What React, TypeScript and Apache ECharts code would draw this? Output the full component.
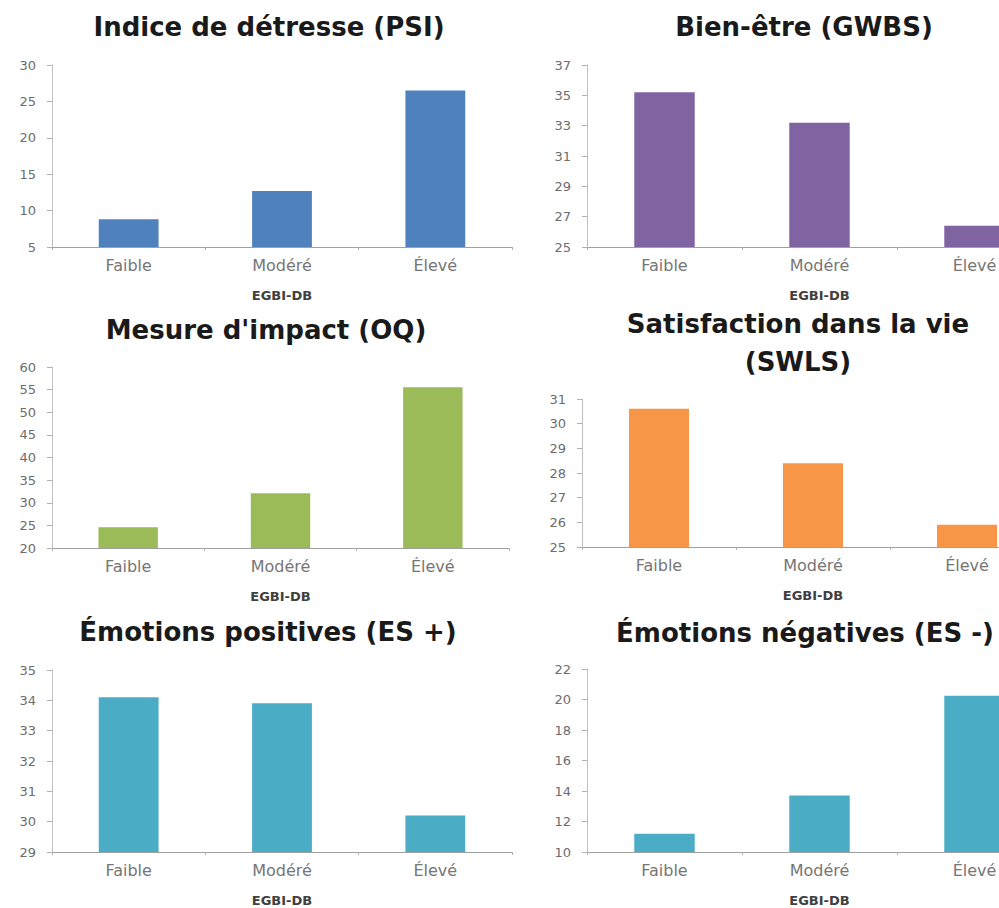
import React, { useEffect, useRef } from "react";
import * as echarts from "echarts";

const categories = ["Faible", "Modéré", "Élevé"];
const axisName = "EGBI-DB";

const psiValues = [8.8, 12.7, 26.5];
const gwbsValues = [35.2, 33.2, 26.4];
const oqValues = [24.6, 32.1, 55.5];
const swlsValues = [30.6, 28.4, 25.9];
const esPosValues = [34.1, 33.9, 30.2];
const esNegValues = [11.2, 13.7, 20.25];

const psiTicks = [5, 10, 15, 20, 25, 30];
const gwbsTicks = [25, 27, 29, 31, 33, 35, 37];
const oqTicks = [20, 25, 30, 35, 40, 45, 50, 55, 60];
const swlsTicks = [25, 26, 27, 28, 29, 30, 31];
const esPosTicks = [29, 30, 31, 32, 33, 34, 35];
const esNegTicks = [10, 12, 14, 16, 18, 20, 22];

const psiTitle = ["Indice de détresse (PSI)"];
const gwbsTitle = ["Bien-être (GWBS)"];
const oqTitle = ["Mesure d'impact (OQ)"];
const swlsTitle = ["Satisfaction dans la vie", "(SWLS)"];
const esPosTitle = ["Émotions positives (ES +)"];
const esNegTitle = ["Émotions négatives (ES -)"];

type Panel = {
  title: string[];
  tx: number;
  ty: number[];
  color: string;
  values: number[];
  ticks: number[];
  grid: { left: number; top: number; width: number; height: number };
};

const panels: Panel[] = [
  { title: psiTitle, tx: 269, ty: [27], color: "#4F81BD", values: psiValues, ticks: psiTicks, grid: { left: 52, top: 65, width: 460, height: 182 } },
  { title: gwbsTitle, tx: 804, ty: [27], color: "#8064A2", values: gwbsValues, ticks: gwbsTicks, grid: { left: 587, top: 65, width: 465, height: 182 } },
  { title: oqTitle, tx: 266, ty: [330], color: "#9BBB59", values: oqValues, ticks: oqTicks, grid: { left: 52, top: 367, width: 457, height: 181 } },
  { title: swlsTitle, tx: 798, ty: [324, 362], color: "#F79646", values: swlsValues, ticks: swlsTicks, grid: { left: 582, top: 399, width: 462, height: 148 } },
  { title: esPosTitle, tx: 268, ty: [632], color: "#4BACC6", values: esPosValues, ticks: esPosTicks, grid: { left: 52, top: 670, width: 460, height: 185 } },
  { title: esNegTitle, tx: 805, ty: [633], color: "#4BACC6", values: esNegValues, ticks: esNegTicks, grid: { left: 587, top: 669, width: 465, height: 187 } },
];

export default function App() {
  const ref = useRef<HTMLDivElement>(null);
  useEffect(() => {
    if (!ref.current) return;
    const chart = echarts.init(ref.current, undefined, { renderer: "svg" });
    const graphics: any[] = [];
    panels.forEach((p) => {
      p.title.forEach((t, j) => {
        graphics.push({
          type: "text",
          x: p.tx,
          y: p.ty[j],
          style: {
            text: t,
            textAlign: "center",
            textVerticalAlign: "middle",
            font: "bold 26px 'DejaVu Sans'",
            fill: "#1a1a1a",
          },
        });
      });
    });
    const option: any = {
      animation: false,
      backgroundColor: "#ffffff",
      graphic: graphics,
      grid: panels.map((p) => ({ ...p.grid, containLabel: false })),
      xAxis: panels.map((p, i) => ({
        type: "category",
        gridIndex: i,
        data: categories,
        axisLine: { lineStyle: { color: "#A0A0A0", width: 1 } },
        axisTick: { show: true, length: 3, lineStyle: { color: "#B0B0B0" } },
        axisLabel: { color: "#767676", fontSize: 16, fontFamily: "DejaVu Sans", margin: 10 },
        name: axisName,
        nameLocation: "middle",
        nameGap: 42,
        nameTextStyle: { color: "#404040", fontSize: 13, fontWeight: "bold", fontFamily: "DejaVu Sans" },
      })),
      yAxis: panels.map((p, i) => ({
        type: "value",
        gridIndex: i,
        min: p.ticks[0],
        max: p.ticks[p.ticks.length - 1],
        splitLine: { show: false },
        axisLine: { show: true, lineStyle: { color: "#C0C0C0", width: 1 } },
        axisTick: { show: true, length: 5, customValues: p.ticks, lineStyle: { color: "#B0B0B0" } },
        axisLabel: { color: "#6d6d6d", fontSize: 13, fontFamily: "DejaVu Sans", margin: 16, customValues: p.ticks },
      })),
      series: panels.map((p, i) => ({
        type: "bar",
        xAxisIndex: i,
        yAxisIndex: i,
        data: p.values,
        barWidth: "39%",
        itemStyle: { color: p.color },
      })),
    };
    chart.setOption(option);
    return () => chart.dispose();
  }, []);
  return (
    <div style={{ position: "fixed", left: 0, top: 0, width: 999, height: 908, overflow: "hidden", background: "#fff" }}>
      <div ref={ref} style={{ width: 1070, height: 908 }} />
    </div>
  );
}
